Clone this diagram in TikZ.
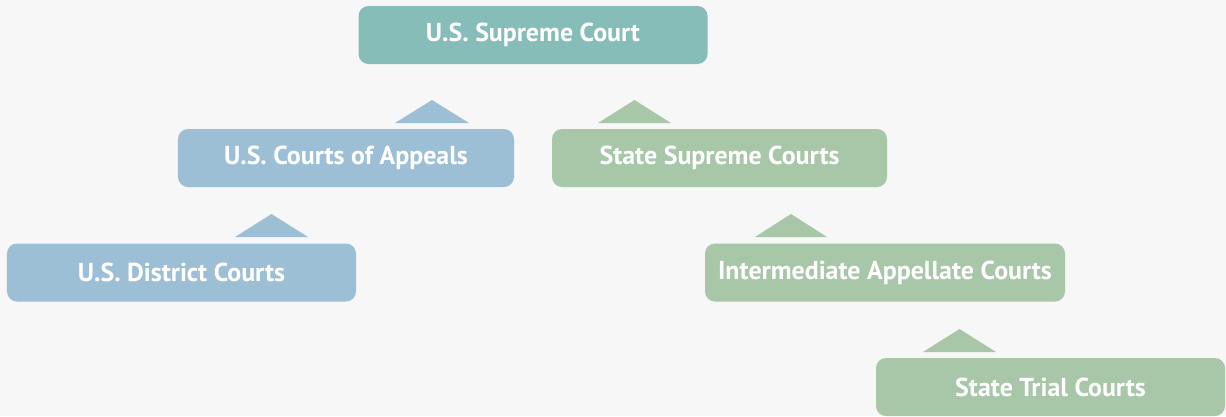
\documentclass[tikz,border=0pt]{standalone}
\usepackage{fontspec}
\setmainfont{PT Sans}
\definecolor{bg}{HTML}{F7F7F7}
\definecolor{teal}{HTML}{87BDB8}
\definecolor{blue}{HTML}{9DBFD6}
\definecolor{green}{HTML}{A8C6A8}
\begin{document}
\begin{tikzpicture}[x=1bp,y=-1bp,
  court/.style={rounded corners=10bp, minimum height=58bp, inner sep=0pt,
    text=white, font=\bfseries\fontsize{26}{30}\selectfont},
  tri/.style={draw=none}]
\fill[bg] (0,0) rectangle (1226,416);
\useasboundingbox (0,0) rectangle (1226,416);
\node[court, fill=teal, minimum width=349bp] (sup) at (533,35) {\raisebox{-1.5bp}{U.S. Supreme Court}};
\node[court, fill=blue, minimum width=336bp] (app) at (346,158) {\raisebox{-1.5bp}{U.S. Courts of Appeals}};
\node[court, fill=green, minimum width=335bp] (ssc) at (719.5,158) {\raisebox{-1.5bp}{State Supreme Courts}};
\node[court, fill=blue, minimum width=349bp] (dist) at (181.5,272.5) {\raisebox{-1.5bp}{U.S. District Courts}};
\node[court, fill=green, minimum width=360bp] (int) at (885,272.5) {\raisebox{-1.5bp}{Intermediate Appellate Courts}};
\node[court, fill=green, minimum width=349bp] (tri) at (1050.5,387) {\raisebox{-1.5bp}{State Trial Courts}};
\fill[blue] (395,123) -- (432,100) -- (469,123) -- cycle;
\fill[green] (598,123) -- (634.5,100) -- (671,123) -- cycle;
\fill[blue] (235,237) -- (271.5,214) -- (308,237) -- cycle;
\fill[green] (755,237) -- (791,214) -- (827,237) -- cycle;
\fill[green] (923,352) -- (959.5,329) -- (996,352) -- cycle;
\end{tikzpicture}
\end{document}
